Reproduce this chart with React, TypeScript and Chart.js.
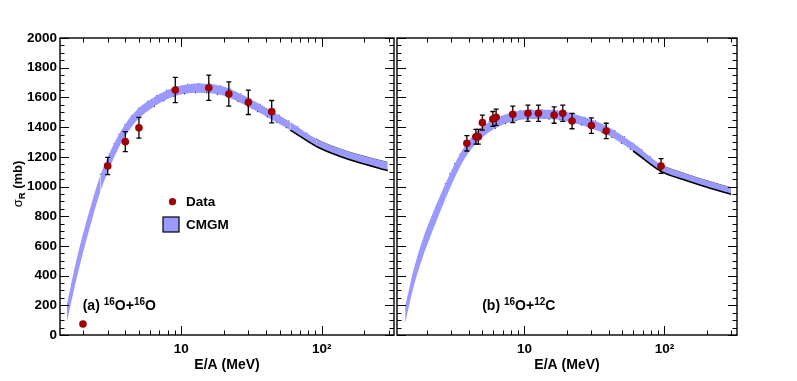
import React, { useEffect, useRef } from 'react';
import { Chart, registerables } from 'chart.js';

Chart.register(...registerables);

const FONT = '"Liberation Sans", Arial, Helvetica, sans-serif';

// ---------- (a) 16O + 16O ----------
const dataE_a = [2.0, 3.0, 4.0, 5.0, 9.07, 15.7, 21.8, 30.0, 44.0];
const dataSigma_a = [74, 1138, 1302, 1396, 1650, 1665, 1623, 1567, 1504];
const dataErr_a = [0, 58, 67, 70, 85, 85, 82, 82, 75];

const bandE_a = [1.538, 1.722, 1.961, 2.305, 2.667, 3.034, 3.454, 3.995, 4.93, 6.39, 8.14, 10.38, 13.23, 16.87, 21.85, 29.7, 43.8, 59.6, 92.2, 133.8, 176.2, 294.2];
const bandUpper_a = [208, 428, 650, 888, 1079, 1208, 1318, 1420, 1523, 1601, 1654, 1683, 1694, 1688, 1660, 1599, 1510, 1434, 1318, 1254, 1218, 1163];
const bandLower_a = [88, 300, 522, 768, 969, 1108, 1228, 1340, 1453, 1537, 1592, 1623, 1632, 1626, 1600, 1539, 1452, 1380, 1268, 1204, 1166, 1107];

// ---------- (b) 16O + 12C ----------
const dataE_b = [3.88, 4.5, 4.69, 5.01, 5.95, 6.28, 8.26, 10.6, 12.6, 16.3, 18.8, 21.9, 30.1, 38.4, 94.6];
const dataSigma_b = [1291, 1335, 1335, 1430, 1455, 1466, 1486, 1493, 1493, 1481, 1493, 1441, 1410, 1374, 1138];
const dataErr_b = [52, 50, 50, 50, 50, 55, 55, 55, 55, 55, 55, 52, 52, 52, 50];

const bandE_b = [1.406, 1.603, 1.859, 2.228, 2.714, 3.306, 3.896, 4.828, 6.176, 8.169, 10.98, 14.77, 19.86, 28.05, 38.96, 59.75, 94.7, 138.2, 201.8, 299.5];
const bandUpper_b = [190, 428, 632, 826, 1015, 1184, 1293, 1390, 1457, 1499, 1516, 1516, 1502, 1461, 1406, 1293, 1148, 1089, 1039, 992];
const bandLower_b = [80, 312, 512, 710, 911, 1092, 1213, 1318, 1391, 1437, 1454, 1454, 1440, 1401, 1348, 1239, 1102, 1045, 995, 948];

// ---------- axes ----------
const yMin = 0;
const yMax = 2000;
const yMajorStep = 200;
const yMinorStep = 50;
const xDecades = [1, 10, 100];
const xTickLabels: Record<string, string> = { '10': '10', '100': '10\u00B2' };

const BAND_COLOR = '#9999ff';
const POINT_COLOR = '#a00000';

type Part = { t: string; size: number; dy: number };

function drawRich(ctx: CanvasRenderingContext2D, x: number, y: number, parts: Part[]) {
  let cx = x;
  for (const p of parts) {
    ctx.font = `bold ${p.size}px ${FONT}`;
    ctx.fillText(p.t, cx, y + p.dy);
    cx += ctx.measureText(p.t).width;
  }
}

function label(tag: string, a: string, b: string, c: string, d: string): Part[] {
  return [
    { t: tag + ' ', size: 14, dy: 0 },
    { t: a, size: 10, dy: -5.5 },
    { t: b, size: 14, dy: 0 },
    { t: c, size: 10, dy: -5.5 },
    { t: d, size: 14, dy: 0 },
  ];
}

interface PanelOpts {
  bandE: number[];
  bandUp: number[];
  bandLo: number[];
  dataE: number[];
  dataY: number[];
  dataErr: number[];
  xMin: number;
  xMax: number;
  showY: boolean;
  padding: { left: number; right: number; top: number; bottom: number };
  text: Part[];
  textX: number;
  textY: number;
  extra?: (ctx: CanvasRenderingContext2D) => void;
}

function makeConfig(o: PanelOpts): any {
  const decor = {
    id: 'decor',
    beforeDatasetDraw(chart: any, args: any) {
      if (args.index !== 2) return;
      const { ctx, scales } = chart;
      const x = scales.x;
      const y = scales.y;
      ctx.save();
      ctx.strokeStyle = '#000';
      ctx.lineWidth = 1.3;
      o.dataE.forEach((e, i) => {
        const err = o.dataErr[i];
        if (!err) return;
        const px = x.getPixelForValue(e);
        const y1 = y.getPixelForValue(o.dataY[i] - err);
        const y2 = y.getPixelForValue(o.dataY[i] + err);
        ctx.beginPath();
        ctx.moveTo(px, y1);
        ctx.lineTo(px, y2);
        ctx.moveTo(px - 2.5, y1);
        ctx.lineTo(px + 2.5, y1);
        ctx.moveTo(px - 2.5, y2);
        ctx.lineTo(px + 2.5, y2);
        ctx.stroke();
      });
      ctx.restore();
    },
    afterDraw(chart: any) {
      const { ctx, chartArea, scales } = chart;
      const { left, right, top, bottom } = chartArea;
      const x = scales.x;
      const y = scales.y;
      ctx.save();
      ctx.strokeStyle = '#000';
      ctx.lineWidth = 1;
      ctx.beginPath();
      for (let v = yMin; v <= yMax; v += yMinorStep) {
        const py = Math.round(y.getPixelForValue(v)) + 0.5;
        const len = v % yMajorStep === 0 ? 9 : 4.5;
        ctx.moveTo(left, py);
        ctx.lineTo(left + len, py);
        ctx.moveTo(right, py);
        ctx.lineTo(right - len, py);
      }
      for (const d of xDecades) {
        for (let m = 1; m <= 9; m++) {
          const v = m * d;
          if (v < o.xMin || v > o.xMax) continue;
          const px = Math.round(x.getPixelForValue(v)) + 0.5;
          const len = m === 1 ? 9 : 4.5;
          ctx.moveTo(px, bottom);
          ctx.lineTo(px, bottom - len);
          ctx.moveTo(px, top);
          ctx.lineTo(px, top + len);
        }
      }
      ctx.stroke();
      ctx.lineWidth = 1.4;
      ctx.strokeRect(left, top, right - left, bottom - top);

      ctx.fillStyle = '#000';
      ctx.textBaseline = 'alphabetic';
      ctx.textAlign = 'left';
      drawRich(ctx, o.textX, o.textY, o.text);
      if (o.extra) o.extra(ctx);
      ctx.restore();
    },
  };

  const lowerSolidFrom = 55;
  const upperSolidFrom = 90;
  const dotFrom = 2.6;
  const DOTS = [1, 10];

  return {
    type: 'line',
    data: {
      datasets: [
        {
          data: o.bandE.map((e, i) => ({ x: e, y: o.bandUp[i] })),
          order: 2,
          borderColor: '#000',
          borderWidth: 1,
          pointRadius: 0,
          fill: false,
          cubicInterpolationMode: 'monotone',
          segment: {
            borderColor: (c: any) => (c.p0.parsed.x < dotFrom ? 'rgba(0,0,0,0)' : c.p0.parsed.x >= upperSolidFrom ? 'rgba(0,0,0,0.7)' : 'rgba(0,0,0,0.85)'),
            borderDash: (c: any) => (c.p0.parsed.x >= upperSolidFrom ? [] : DOTS),
            borderWidth: (c: any) => (c.p0.parsed.x >= upperSolidFrom ? 0.9 : 1.1),
          },
        },
        {
          data: o.bandE.map((e, i) => ({ x: e, y: o.bandLo[i] })),
          order: 1,
          borderColor: '#000',
          borderWidth: 1,
          pointRadius: 0,
          backgroundColor: BAND_COLOR,
          fill: '-1',
          cubicInterpolationMode: 'monotone',
          segment: {
            borderColor: (c: any) => (c.p0.parsed.x < 5 ? 'rgba(0,0,0,0)' : c.p0.parsed.x >= lowerSolidFrom ? '#000' : 'rgba(0,0,0,0.85)'),
            borderDash: (c: any) => (c.p0.parsed.x >= lowerSolidFrom ? [] : DOTS),
            borderWidth: (c: any) => (c.p0.parsed.x >= lowerSolidFrom ? 1.6 : 1.1),
          },
        },
        {
          data: o.dataE.map((e, i) => ({ x: e, y: o.dataY[i] })),
          order: 0,
          showLine: false,
          pointRadius: 3.8,
          pointBackgroundColor: POINT_COLOR,
          pointBorderWidth: 0,
          borderColor: POINT_COLOR,
          fill: false,
        },
      ],
    },
    options: {
      responsive: false,
      animation: false,
      devicePixelRatio: 1,
      events: [],
      layout: { padding: o.padding },
      plugins: { legend: { display: false }, tooltip: { enabled: false } },
      scales: {
        x: {
          type: 'logarithmic',
          min: o.xMin,
          max: o.xMax,
          grid: { display: false, drawTicks: false },
          border: { display: false },
          ticks: {
            autoSkip: false,
            maxRotation: 0,
            padding: 6,
            color: '#000',
            font: { family: FONT, size: 13.5, weight: 'bold' },
            callback: (v: number) => {
              const key = String(Math.round(v));
              return Math.abs(v - Math.round(v)) < 1e-6 && xTickLabels[key] ? xTickLabels[key] : '';
            },
          },
          title: {
            display: true,
            text: 'E/A (MeV)',
            color: '#000',
            font: { family: FONT, size: 14, weight: 'bold' },
            padding: { top: 0, bottom: 7.5 },
          },
          afterFit: (s: any) => {
            s.height = 46;
          },
        },
        y: {
          display: o.showY,
          min: yMin,
          max: yMax,
          grid: { display: false, drawTicks: false },
          border: { display: false },
          ticks: {
            stepSize: yMajorStep,
            padding: 3,
            color: '#000',
            autoSkip: false,
            font: { family: FONT, size: 13.5, weight: 'bold' },
            callback: (v: number) => String(v),
          },
          afterFit: (s: any) => {
            s.width = o.showY ? 60 : 0;
          },
        },
      },
    },
    plugins: [decor],
  };
}

function drawLegendAndTitle(ctx: CanvasRenderingContext2D) {
  // y-axis title  sigma_R (mb)
  ctx.save();
  ctx.translate(22, 184);
  ctx.rotate(-Math.PI / 2);
  ctx.fillStyle = '#000';
  ctx.textBaseline = 'alphabetic';
  ctx.font = `13px ${FONT}`;
  const wS = ctx.measureText('\u03C3').width;
  ctx.font = `bold 9.5px ${FONT}`;
  const wR = ctx.measureText('R').width;
  ctx.font = `bold 13px ${FONT}`;
  const wM = ctx.measureText(' (mb)').width;
  let cx = -(wS + wR + wM) / 2;
  ctx.font = `13px ${FONT}`;
  ctx.fillText('\u03C3', cx, 0);
  cx += wS;
  ctx.font = `bold 9.5px ${FONT}`;
  ctx.fillText('R', cx, 3);
  cx += wR;
  ctx.font = `bold 13px ${FONT}`;
  ctx.fillText(' (mb)', cx, 0);
  ctx.restore();

  // legend
  ctx.save();
  ctx.fillStyle = POINT_COLOR;
  ctx.beginPath();
  ctx.arc(172.5, 201.7, 3.6, 0, Math.PI * 2);
  ctx.fill();
  ctx.fillStyle = BAND_COLOR;
  ctx.fillRect(163, 217, 16, 15);
  ctx.strokeStyle = '#000';
  ctx.lineWidth = 1.2;
  ctx.strokeRect(163, 217, 16, 15);
  ctx.fillStyle = '#000';
  ctx.font = `bold 13.5px ${FONT}`;
  ctx.textBaseline = 'middle';
  ctx.fillText('Data', 186, 202);
  ctx.fillText('CMGM', 186, 225);
  ctx.restore();
}

export default function App() {
  const refA = useRef<HTMLCanvasElement>(null);
  const refB = useRef<HTMLCanvasElement>(null);

  useEffect(() => {
    const a = new Chart(
      refA.current as HTMLCanvasElement,
      makeConfig({
        bandE: bandE_a,
        bandUp: bandUpper_a,
        bandLo: bandLower_a,
        dataE: dataE_a,
        dataY: dataSigma_a,
        dataErr: dataErr_a,
        xMin: 1.373,
        xMax: 326,
        showY: true,
        padding: { left: 0, right: 2, top: 38, bottom: 0 },
        text: label('(a)', '16', 'O+', '16', 'O'),
        textX: 82.7,
        textY: 310,
        extra: drawLegendAndTitle,
      })
    );
    const b = new Chart(
      refB.current as HTMLCanvasElement,
      makeConfig({
        bandE: bandE_b,
        bandUp: bandUpper_b,
        bandLo: bandLower_b,
        dataE: dataE_b,
        dataY: dataSigma_b,
        dataErr: dataErr_b,
        xMin: 1.23,
        xMax: 330,
        showY: false,
        padding: { left: 0, right: 60, top: 38, bottom: 0 },
        text: label('(b)', '16', 'O+', '12', 'C'),
        textX: 91.2,
        textY: 310,
      })
    );
    return () => {
      a.destroy();
      b.destroy();
    };
  }, []);

  return (
    <div style={{ position: 'fixed', left: 0, top: 0, width: 797, height: 381, background: '#fff', overflow: 'hidden' }}>
      <canvas ref={refA} width={400} height={381} style={{ position: 'absolute', left: 0, top: 0, width: 400, height: 381 }} />
      <canvas ref={refB} width={406} height={381} style={{ position: 'absolute', left: 391, top: 0, width: 406, height: 381 }} />
    </div>
  );
}
